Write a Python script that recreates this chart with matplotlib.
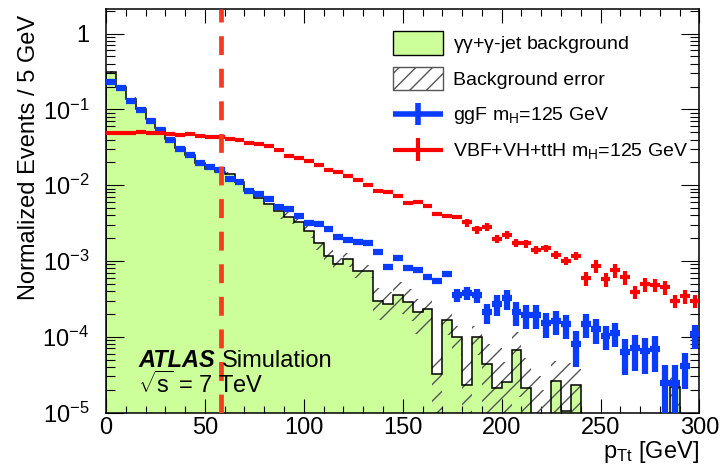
import numpy as np
import matplotlib
matplotlib.use('Agg')
import matplotlib.pyplot as plt
from matplotlib.lines import Line2D
from matplotlib.patches import Patch
from matplotlib.legend_handler import HandlerBase
from matplotlib.ticker import FixedLocator, FixedFormatter, MultipleLocator

plt.rcParams['font.family'] = ['Liberation Sans', 'DejaVu Sans']
plt.rcParams['mathtext.fontset'] = 'custom'
plt.rcParams['mathtext.rm'] = 'Liberation Sans'
plt.rcParams['mathtext.it'] = 'Liberation Sans:italic'
plt.rcParams['mathtext.bf'] = 'Liberation Sans:bold'
plt.rcParams['mathtext.default'] = 'regular'
plt.rcParams['hatch.color'] = '#555555'
plt.rcParams['hatch.linewidth'] = 1.0

# 5 GeV bins, 0-300 GeV
bin_edges = np.arange(0, 301, 5)
bin_centres = bin_edges[:-1] + 2.5

# gamma-gamma + gamma-jet background (normalised)
bkg = [0.31, 0.20, 0.138, 0.10, 0.074, 0.056, 0.041, 0.031, 0.025, 0.0195,
       0.0165, 0.015, 0.0141, 0.0109, 0.0083, 0.0068, 0.0056, 0.0045, 0.0038, 0.0033,
       0.0025, 0.00175, 0.00117, 0.00091, 0.00105, 0.00074, 0.00074, 0.00030, 0.00027, 0.00036,
       0.00029, 0.00021, 0.00023, 3.2e-5, 1.64e-4, 9.8e-5, 2.3e-5, 9.8e-5, 4.3e-5, 2.1e-5,
       2.5e-5, 6.6e-5, 2.1e-5, 0, 0, 2.6e-5, 1.05e-5, 2.3e-5, 0, 0,
       0, 0, 0, 0, 0, 0, 0, 2.2e-5, 0, 0]
bkg_err = [0.012, 0.008, 0.0055, 0.004, 0.003, 0.0022, 0.0016, 0.0012, 0.001, 0.0008,
           0.0007, 0.0006, 0.0006, 0.0005, 0.0004, 0.0003, 0.00025, 0.0009, 0.00076, 0.00066,
           0.0005, 0.00035, 0.00023, 0.00018, 0.00021, 0.00015, 0.00015, 0.000135, 0.00012, 0.00016,
           0.00013, 0.0001, 0.0001, 3e-5, 6e-5, 4e-5, 3e-5, 4e-5, 3.7e-5, 5e-5,
           2.1e-5, 5e-5, 3.1e-5, 3e-5, 2e-5, 2.2e-5, 3.5e-5, 1.5e-5, 0, 0,
           0, 0, 0, 0, 0, 0, 0, 1e-5, 0, 0]

# ggF signal, mH = 125 GeV
ggf = [0.23, 0.19, 0.13, 0.097, 0.070, 0.054, 0.039, 0.030, 0.025, 0.0197,
       0.0172, 0.0156, 0.012, 0.011, 0.0083, 0.0077, 0.0066, 0.0052, 0.0048, 0.0039,
       0.0032, 0.0031, 0.0026, 0.0021, 0.0019, 0.0018, 0.00173, 0.0013, 0.00084, 0.0011,
       0.00081, 0.00076, 0.00062, 0.00055, 0.00068, 0.00036, 0.00038, 0.00035, 0.00021, 0.00027,
       0.00032, 0.00021, 0.000196, 0.000196, 0.00015, 0.00016, 0.000145, 8e-5, 0.000148, 0.000125,
       0.000102, 0.000112, 6.2e-5, 7.1e-5, 6.4e-5, 6.9e-5, 2.45e-5, 2.45e-5, 4.1e-5, 0.000107]
ggf_rel_err = [0.03] * 26 + [0.08] * 9 + [0.2] * 3 + [0.3] * 3 + [0.35] * 6 + [0.5] + \
              [0.35] * 4 + [0.5] * 4 + [0.75, 0.75, 0.5, 0.35]

# VBF + VH + ttH signal, mH = 125 GeV
vbf = [0.0491, 0.0487, 0.0491, 0.0501, 0.0487, 0.0487, 0.0467, 0.0453, 0.0467, 0.0439,
       0.043, 0.043, 0.0409, 0.0389, 0.0362, 0.0344, 0.0327, 0.0292, 0.0246, 0.0226,
       0.0211, 0.0185, 0.0159, 0.0148, 0.013, 0.0117, 0.0101, 0.00847, 0.0082, 0.0072,
       0.0059, 0.006, 0.0053, 0.00416, 0.00386, 0.00375, 0.00322, 0.0026, 0.0028, 0.00194,
       0.00221, 0.00175, 0.0017, 0.00139, 0.00147, 0.0012, 0.001, 0.00116, 0.00059, 0.00086,
       0.00057, 0.00075, 0.00061, 0.00039, 0.00049, 0.00048, 0.00045, 0.0003, 0.00034, 0.0003]
vbf_rel_err = [0.03] * 36 + [0.12] * 12 + [0.2] * 12

cut_value = 58

c_green = '#ccff99'
c_blue = '#0a3cff'
c_red = '#ff0000'
c_cut = '#f53a1f'


class CrossHandler(HandlerBase):
    # errorbar-style cross for the legend
    def create_artists(self, legend, orig_handle, xdescent, ydescent, width, height, fontsize, trans):
        x0, y0 = -xdescent, -ydescent
        kw = dict(color=orig_handle.get_color(), lw=orig_handle.get_linewidth(),
                  solid_capstyle='butt', transform=trans)
        hline = Line2D([x0, x0 + width], [y0 + height / 2] * 2, **kw)
        vline = Line2D([x0 + width / 2] * 2, [y0 + 0.03 * height, y0 + 0.97 * height], **kw)
        return [hline, vline]


bkg_a = np.array(bkg)
err_a = np.array(bkg_err)
floor = 1e-7

fig = plt.figure(figsize=(7.22, 4.67), dpi=100)
ax = fig.add_axes([0.1468, 0.1167, 0.822, 0.8634])
ax.set_yscale('log')

# background histogram
ax.stairs(np.where(bkg_a > 0, bkg_a, floor), bin_edges, baseline=floor, fill=True,
          facecolor=c_green, edgecolor='none', zorder=1)
# background error band
up = bkg_a + err_a
lo = np.clip(bkg_a - err_a, floor, None)
has_err = err_a > 0
ax.stairs(np.where(has_err, up, floor), bin_edges, baseline=np.where(has_err, lo, floor),
          fill=True, facecolor='none', edgecolor='#555555', linewidth=0, hatch='//', zorder=2)
ax.stairs(np.where(bkg_a > 0, bkg_a, floor), bin_edges, baseline=floor, fill=False,
          color='black', linewidth=1.1, zorder=3)

# signals
ax.errorbar(bin_centres, ggf, xerr=2.5, yerr=np.array(ggf) * np.array(ggf_rel_err),
            fmt='none', ecolor=c_blue, elinewidth=4.5, capsize=0, zorder=5)
ax.errorbar(bin_centres, vbf, xerr=2.5, yerr=np.array(vbf) * np.array(vbf_rel_err),
            fmt='none', ecolor=c_red, elinewidth=3.0, capsize=0, zorder=6)

ax.axvline(cut_value, color=c_cut, lw=3.4, dashes=(4.0, 2.9), zorder=7)

ax.set_xlim(0, 300)
ax.set_ylim(1e-5, 2.09)

ax.xaxis.set_major_locator(MultipleLocator(50))
ax.xaxis.set_minor_locator(MultipleLocator(10))
y_ticks = [1e-5, 1e-4, 1e-3, 1e-2, 1e-1, 1]
y_labels = ['$10^{-5}$', '$10^{-4}$', '$10^{-3}$', '$10^{-2}$', '$10^{-1}$', '1']
ax.yaxis.set_major_locator(FixedLocator(y_ticks))
ax.yaxis.set_major_formatter(FixedFormatter(y_labels))
ax.yaxis.set_minor_locator(FixedLocator([m * 10.0 ** e for e in range(-5, 1) for m in range(2, 10)]))
ax.yaxis.set_minor_formatter(FixedFormatter([]))

ax.tick_params(which='both', direction='in', top=True, right=True, width=0.8, labelsize=17)
ax.tick_params(axis='x', which='major', length=10, pad=3)
ax.tick_params(axis='x', which='minor', length=5)
ax.tick_params(axis='y', which='major', length=13, pad=12)
ax.tick_params(axis='y', which='minor', length=6.5)
for s in ax.spines.values():
    s.set_linewidth(1.1)

ax.set_ylabel('Normalized Events / 5 GeV', fontsize=17, loc='top')
ax.yaxis.set_label_coords(-0.111, 0.986)
ax.set_xlabel('$p_{Tt}$ [GeV]', fontsize=17, loc='right')
ax.xaxis.label.set_va('baseline')
ax.xaxis.set_label_coords(1.0, -0.114)

fig.text(138 / 722, 1 - 367 / 467, 'ATLAS', fontsize=17, fontweight='bold', fontstyle='italic')
fig.text(222 / 722, 1 - 367 / 467, 'Simulation', fontsize=17)
fig.text(138 / 722, 1 - 393 / 467, r'$\sqrt{s}$ = 7 TeV', fontsize=17)

handles = [Patch(facecolor=c_green, edgecolor='black', linewidth=1.0),
           Patch(facecolor='white', edgecolor='#555555', linewidth=1.0, hatch='//'),
           Line2D([], [], color=c_blue, lw=4.0),
           Line2D([], [], color=c_red, lw=3.0)]
labels = [r'$\gamma\gamma$+$\gamma$-jet background', 'Background error',
          'ggF $m_H$=125 GeV', 'VBF+VH+ttH $m_H$=125 GeV']
ax.legend(handles, labels, loc='upper left', bbox_to_anchor=(393 / 722, 1 - 31 / 467),
          bbox_transform=fig.transFigure, frameon=False, fontsize=14, borderpad=0,
          borderaxespad=0, handlelength=2.57, handleheight=1.5, labelspacing=0.59,
          handletextpad=0.5, handler_map={Line2D: CrossHandler()})

fig.savefig('out.png', dpi=100)
